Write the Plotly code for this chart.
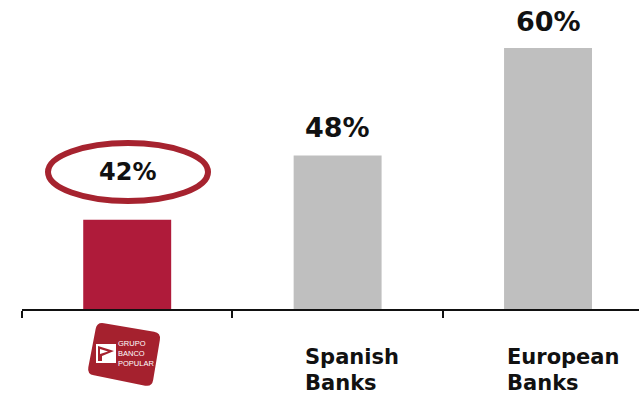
import math
import plotly.graph_objects as go

# Capital ratios by peer group
categories = ["Banco Popular", "Spanish Banks", "European Banks"]
values = [42, 48, 60]
value_labels = ["42%", "48%", "60%"]
bar_colors = ["#AF1B3A", "#BFBFBF", "#BFBFBF"]
group_edges = [-0.5, 0.5, 1.5]

W, H = 639, 396
LEFT, AXIS_Y = 22, 309
FONT = "DejaVu Sans"
LOGO_RED = "#A5212E"


def px(x):
    return (x - LEFT) / (W - LEFT)


def py(y):
    return (AXIS_Y - y) / AXIS_Y


def rounded_poly(corners, r):
    """SVG path for a polygon with rounded corners, given in page pixels."""
    parts = []
    n = len(corners)
    for i, (cx, cy) in enumerate(corners):
        ax, ay = corners[i - 1]
        bx, by = corners[(i + 1) % n]
        da = math.hypot(ax - cx, ay - cy)
        db = math.hypot(bx - cx, by - cy)
        sx, sy = cx + (ax - cx) * r / da, cy + (ay - cy) * r / da
        ex, ey = cx + (bx - cx) * r / db, cy + (by - cy) * r / db
        parts.append(f"{'M' if i == 0 else 'L'}{px(sx):.5f},{py(sy):.5f}")
        parts.append(f"Q{px(cx):.5f},{py(cy):.5f} {px(ex):.5f},{py(ey):.5f}")
    return " ".join(parts) + " Z"


def poly(points):
    body = " L".join(f"{px(x):.5f},{py(y):.5f}" for x, y in points)
    return f"M{body} Z"


fig = go.Figure(
    go.Bar(
        x=[0, 1, 2],
        y=values,
        width=0.418,
        marker=dict(color=bar_colors, line_width=0),
        hovertext=categories,
        cliponaxis=False,
    )
)

shapes = [
    # Ring around the Banco Popular figure
    dict(
        type="circle", xref="paper", yref="paper",
        x0=px(48), x1=px(208), y0=py(143), y1=py(201),
        line=dict(color="#A6232F", width=6), fillcolor="rgba(0,0,0,0)",
    ),
    # Logo tile
    dict(
        type="path", xref="paper", yref="paper", line_width=0, fillcolor=LOGO_RED,
        path=rounded_poly([(97, 322), (161, 333), (152, 387), (87, 374)], 7),
    ),
    # Logo emblem
    dict(
        type="path", xref="paper", yref="paper", line_width=0, fillcolor="white",
        path=poly([(96, 344), (116, 344), (116, 363), (96, 363)]),
    ),
    dict(
        type="path", xref="paper", yref="paper", line_width=0, fillcolor=LOGO_RED,
        path=poly([(98, 346), (114, 351), (102, 356), (102, 361), (98, 361)]),
    ),
    dict(
        type="path", xref="paper", yref="paper", line_width=0, fillcolor="white",
        path=poly([(100, 349), (108, 351.5), (100, 354)]),
    ),
]

annotations = []
# Value labels: the first sits inside the ring, the others above their bars
label_specs = [(32, 24), (11, 27), (9, 27)]
for i, (label, value) in enumerate(zip(value_labels, values)):
    lift, size = label_specs[i]
    annotations.append(dict(
        x=i, y=math.log10(value), xref="x", yref="y", text=f"<b>{label}</b>",
        showarrow=False, yanchor="bottom", yshift=lift,
        font=dict(family=FONT, size=size, color="#111111"),
    ))

# Peer group names under the axis, left aligned, one annotation per line
for line, left, centre in [
    ("Spanish", 303, 356.5), ("Banks", 303, 382.5),
    ("European", 505, 356.5), ("Banks", 505, 382.5),
]:
    annotations.append(dict(
        x=px(left), y=py(centre), xref="paper", yref="paper", text=f"<b>{line}</b>",
        showarrow=False, xanchor="left", yanchor="middle", align="left",
        font=dict(family=FONT, size=21, color="#111111"),
    ))

# Logo lettering
annotations.append(dict(
    x=px(116), y=py(353.5), xref="paper", yref="paper",
    text="GRUPO<br>BANCO<br>POPULAR", showarrow=False,
    xanchor="left", yanchor="middle", align="left",
    font=dict(family="Liberation Sans", size=7.5, color="white"),
))

fig.update_layout(
    width=W, height=H,
    margin=dict(l=LEFT, r=0, t=0, b=H - AXIS_Y, pad=0),
    paper_bgcolor="white", plot_bgcolor="white",
    showlegend=False, shapes=shapes, annotations=annotations,
    xaxis=dict(
        range=[-0.5, (W - 127) / 210.5],
        tickmode="array", tickvals=group_edges, ticktext=["", "", ""],
        ticks="outside", ticklen=7, tickwidth=2, tickcolor="#111111",
        showline=True, linecolor="#111111", linewidth=2,
        showgrid=False, zeroline=False,
    ),
    yaxis=dict(
        type="log", range=[math.log10(34.9), math.log10(66.3)],
        visible=False, showgrid=False,
    ),
)

fig.write_html("out.html", config=dict(displayModeBar=False))
